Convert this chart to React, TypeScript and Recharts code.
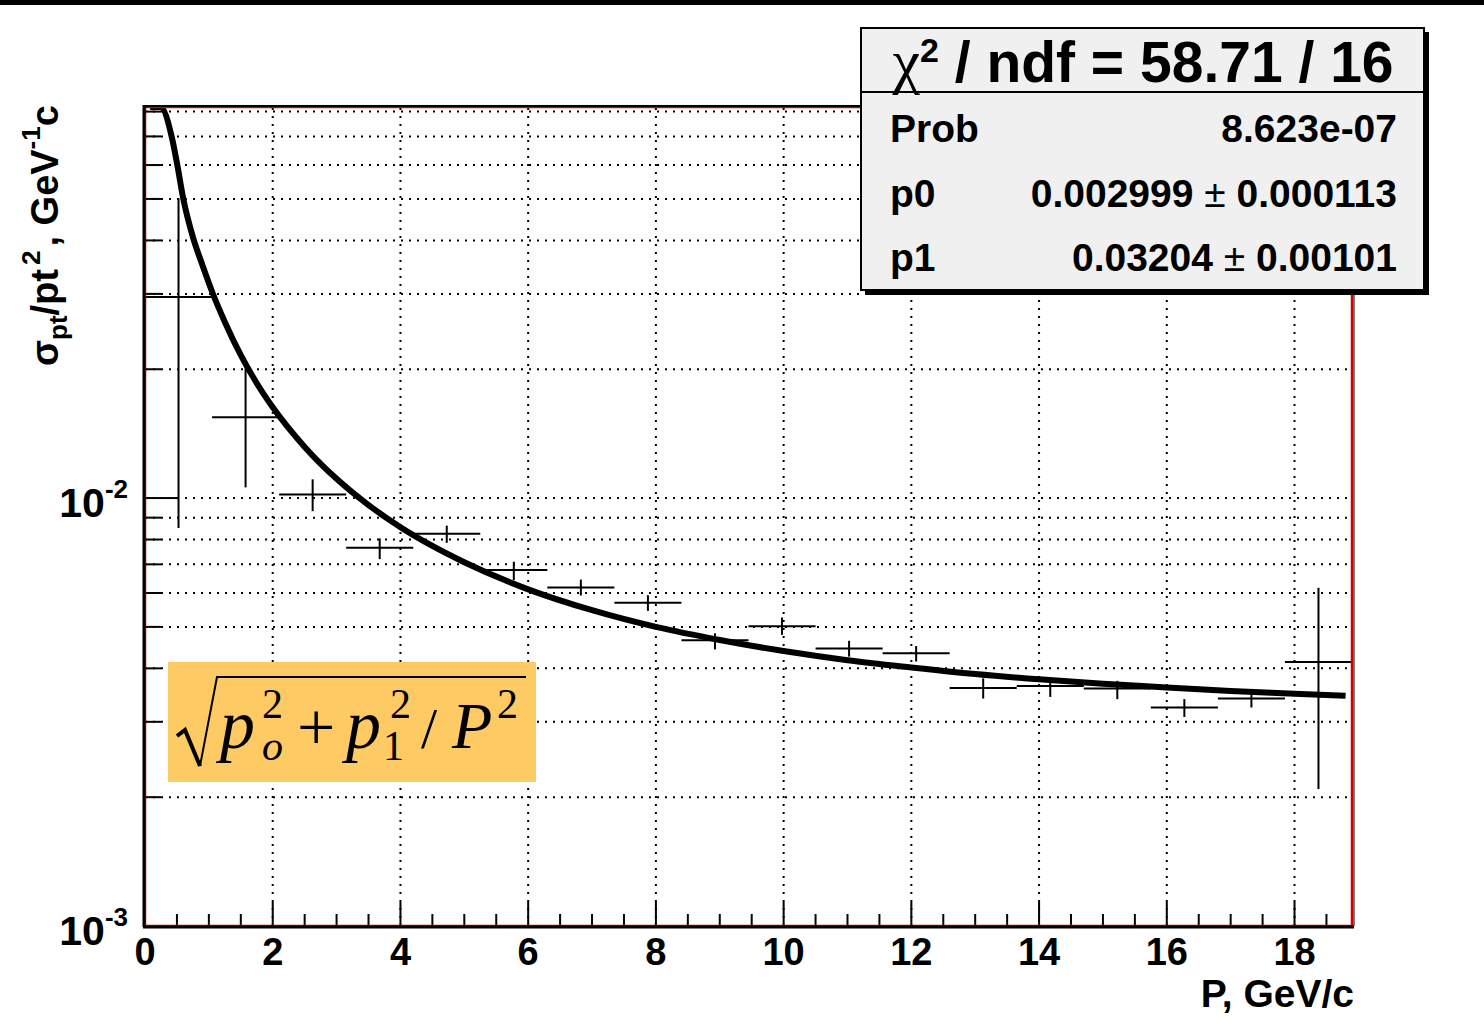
import React from 'react';
import {
  ComposedChart,
  XAxis,
  YAxis,
  Line,
  Scatter,
  ErrorBar,
  ReferenceLine,
} from 'recharts';

// momentum bins (GeV/c): centres and half width
const binCenters = [
  0.525, 1.575, 2.625, 3.675, 4.725, 5.775, 6.825, 7.875, 8.925, 9.975, 11.025,
  12.075, 13.125, 14.175, 15.225, 16.275, 17.325, 18.375,
];
const binHalfWidth = 0.525;

// sigma_pt / pt^2 per bin, with error bar ends
const sigmaValues = [
  0.0295, 0.01544, 0.0102, 0.00765, 0.00825, 0.00679, 0.00618, 0.00569, 0.00465,
  0.00502, 0.00445, 0.00434, 0.0036, 0.00364, 0.00359, 0.00324, 0.0034, 0.00414,
];
const sigmaUpper = [
  0.0502, 0.0201, 0.01106, 0.00805, 0.00862, 0.0071, 0.00645, 0.00593, 0.00483,
  0.00526, 0.00464, 0.00451, 0.00379, 0.00381, 0.00374, 0.00339, 0.00353, 0.00617,
];
const sigmaLower = [
  0.00851, 0.01059, 0.00932, 0.0072, 0.00786, 0.00643, 0.00592, 0.00545, 0.00443,
  0.00479, 0.00426, 0.00415, 0.0034, 0.00343, 0.00339, 0.00308, 0.00324, 0.00209,
];

// fit curve as drawn
const fitP = [
  0.08, 0.24, 0.42, 0.5, 0.6, 0.75, 0.9, 1.06, 1.25, 1.5, 1.75, 2, 2.5, 3, 3.5, 4,
  4.5, 5, 6, 7, 8, 9, 10, 11, 12, 13, 14, 15, 16, 17, 18, 18.8,
];
const fitValues = [
  0.082, 0.082, 0.0697, 0.0607, 0.05, 0.0407, 0.035, 0.0301, 0.0258, 0.02157,
  0.01855, 0.0163, 0.01317, 0.01109, 0.00963, 0.00855, 0.00773, 0.00708, 0.00612,
  0.00547, 0.005, 0.00466, 0.00439, 0.00418, 0.00402, 0.00388, 0.00377, 0.00368,
  0.00361, 0.00354, 0.00349, 0.00345,
];

const xTicks = [
  0, 0.5, 1, 1.5, 2, 2.5, 3, 3.5, 4, 4.5, 5, 5.5, 6, 6.5, 7, 7.5, 8, 8.5, 9, 9.5,
  10, 10.5, 11, 11.5, 12, 12.5, 13, 13.5, 14, 14.5, 15, 15.5, 16, 16.5, 17, 17.5,
  18, 18.5,
];
const xGrid = [2, 4, 6, 8, 10, 12, 14, 16, 18];
const yTicks = [
  0.001, 0.002, 0.003, 0.004, 0.005, 0.006, 0.007, 0.008, 0.009, 0.01, 0.02, 0.03,
  0.04, 0.05, 0.06, 0.07, 0.08,
];

const statsRows = [
  { name: 'Prob', value: '8.623e-07', err: '' },
  { name: 'p0', value: '0.002999', err: '0.000113' },
  { name: 'p1', value: '0.03204', err: '0.00101' },
];

const points = binCenters.map((p, i) => ({
  p,
  v: sigmaValues[i],
  ex: binHalfWidth,
  ey: [sigmaValues[i] - sigmaLower[i], sigmaUpper[i] - sigmaValues[i]],
}));
const fitData = fitP.map((p, i) => ({ p, v: fitValues[i] }));

const SANS = "'Liberation Sans', Arial, Helvetica, sans-serif";
const SERIF = "'Liberation Serif', 'Times New Roman', serif";
const PLOT = { left: 145, top: 107, right: 1352, bottom: 926 };

const XTick = (props: any) => {
  const { x, y, payload } = props;
  const v = payload.value;
  const major = Math.abs(v / 2 - Math.round(v / 2)) < 1e-6;
  return (
    <g>
      <line x1={x} y1={y} x2={x} y2={y - (major ? 24 : 12)} stroke="#000" strokeWidth={2} />
      {major && (
        <text x={x} y={y + 39} textAnchor="middle" fontFamily={SANS} fontWeight="bold" fontSize={38} fill="#000">
          {v}
        </text>
      )}
    </g>
  );
};

const YTick = (props: any) => {
  const { x, y, payload } = props;
  const lg = Math.log10(payload.value);
  const major = Math.abs(lg - Math.round(lg)) < 1e-6;
  return (
    <g>
      <line x1={x} y1={y} x2={x + (major ? 32 : 16)} y2={y} stroke="#000" strokeWidth={2} />
      {major && (
        <text x={x - 17} y={y + 19} textAnchor="end" fontFamily={SANS} fontWeight="bold" fontSize={41} fill="#000">
          <tspan>10</tspan>
          <tspan fontSize={26} dy={-19}>{Math.round(lg)}</tspan>
        </text>
      )}
    </g>
  );
};

const dotted = { stroke: '#000', strokeWidth: 2, strokeDasharray: '2 6' };

export default function App() {
  return (
    <div style={{ position: 'absolute', left: 0, top: 0, width: 1484, height: 1024, background: '#fff' }}>
      <ComposedChart width={1484} height={1024} margin={{ top: 107, right: 132, bottom: 0, left: 0 }}>
        <XAxis
          type="number"
          dataKey="p"
          domain={[0, 18.9]}
          ticks={xTicks}
          interval={0}
          height={98}
          tickSize={0}
          tickMargin={0}
          axisLine={false}
          tickLine={false}
          tick={XTick}
          allowDataOverflow
        />
        <YAxis
          type="number"
          dataKey="v"
          scale="log"
          domain={[0.001, 0.082]}
          ticks={yTicks}
          interval={0}
          width={145}
          tickSize={0}
          tickMargin={0}
          axisLine={false}
          tickLine={false}
          tick={YTick}
          allowDataOverflow
        />
        {xGrid.map((g) => (
          <ReferenceLine key={'gx' + g} x={g} {...dotted} />
        ))}
        {yTicks.slice(1).map((g) => (
          <ReferenceLine key={'gy' + g} y={g} {...dotted} />
        ))}
        <Scatter data={points} isAnimationActive={false} shape={() => <g />}>
          <ErrorBar dataKey="ex" direction="x" width={0} stroke="#000" strokeWidth={2} isAnimationActive={false} />
          <ErrorBar dataKey="ey" direction="y" width={0} stroke="#000" strokeWidth={2} isAnimationActive={false} />
        </Scatter>
        <Line
          data={fitData}
          dataKey="v"
          type="monotone"
          stroke="#000"
          strokeWidth={6}
          dot={false}
          activeDot={false}
          isAnimationActive={false}
        />
      </ComposedChart>

      <svg
        width={1484}
        height={1024}
        style={{ position: 'absolute', left: 0, top: 0, pointerEvents: 'none' }}
        fontFamily={SANS}
      >
        <rect x={0} y={0} width={1484} height={5} fill="#000" />

        {/* frame */}
        <rect
          x={PLOT.left}
          y={PLOT.top}
          width={PLOT.right - PLOT.left}
          height={PLOT.bottom - PLOT.top}
          fill="none"
          stroke="#d40000"
          strokeWidth={2.5}
        />
        <line x1={PLOT.left} y1={PLOT.top - 1} x2={PLOT.right} y2={PLOT.top - 1} stroke="#000" strokeWidth={2} />
        <line x1={PLOT.right + 2} y1={PLOT.top} x2={PLOT.right + 2} y2={PLOT.bottom} stroke="#000" strokeWidth={1} />
        <line x1={PLOT.left - 1} y1={PLOT.top - 2} x2={PLOT.left - 1} y2={PLOT.bottom + 1} stroke="#000" strokeWidth={3} />
        <line x1={PLOT.left - 2} y1={PLOT.bottom + 1} x2={PLOT.right + 2} y2={PLOT.bottom + 1} stroke="#000" strokeWidth={3} />

        {/* axis titles */}
        <text transform="translate(58,366) rotate(-90)" fontSize={38} fontWeight="bold" fill="#000">
          <tspan>σ</tspan>
          <tspan fontSize={26} dy={9}>pt</tspan>
          <tspan dy={-9}>/pt</tspan>
          <tspan fontSize={26} dy={-18} dx={4}>2</tspan>
          <tspan dy={18} dx={4}>, GeV</tspan>
          <tspan fontSize={26} dy={-18}>-1</tspan>
          <tspan dy={18}>c</tspan>
        </text>
        <text x={1354} y={1007} textAnchor="end" fontSize={39} fontWeight="bold" fill="#000">
          P, GeV/c
        </text>

        {/* fit statistics box */}
        <rect x={865} y={32} width={564} height={263} fill="#000" />
        <rect x={861} y={28} width={563} height={262} fill="#f0f0f0" stroke="#000" strokeWidth={2} />
        <line x1={861} y1={92} x2={1424} y2={92} stroke="#000" strokeWidth={2} />
        <text x={1143} y={82} textAnchor="middle" fontSize={57} fontWeight="bold" fill="#000">
          <tspan fontFamily={SERIF} fontWeight="normal" fontSize={62}>χ</tspan>
          <tspan fontSize={34} dy={-20}>2</tspan>
          <tspan dy={20}>{' / ndf = 58.71 / 16'}</tspan>
        </text>
        {statsRows.map((r, i) => (
          <g key={r.name}>
            <text x={890} y={142 + i * 64.5} fontSize={39} fontWeight="bold" fill="#000">
              {r.name}
            </text>
            <text x={1397} y={142 + i * 64.5} textAnchor="end" fontSize={39} fontWeight="bold" fill="#000">
              <tspan>{r.value}</tspan>
              {r.err && <tspan fontWeight="normal">{' ± '}</tspan>}
              {r.err && <tspan>{r.err}</tspan>}
            </text>
          </g>
        ))}

        {/* formula */}
        <rect x={168} y={662} width={368} height={120} fill="#fdca63" />
        <path d="M177,736 L185,730 L200,766" fill="none" stroke="#000" strokeWidth={4} />
        <path d="M200,766 L217,677 L526,677" fill="none" stroke="#000" strokeWidth={2} />
        <g fontFamily={SERIF} fill="#000">
          <text x={220} y={748} fontSize={70} fontStyle="italic">p</text>
          <text x={262} y={718} fontSize={42}>2</text>
          <text x={262} y={760} fontSize={42} fontStyle="italic">o</text>
          <text x={297} y={750} fontSize={68}>+</text>
          <text x={346} y={748} fontSize={70} fontStyle="italic">p</text>
          <text x={390} y={718} fontSize={42}>2</text>
          <text x={383} y={760} fontSize={42}>1</text>
          <text x={421} y={748} fontSize={58}>/</text>
          <text x={452} y={748} fontSize={66} fontStyle="italic">P</text>
          <text x={497} y={718} fontSize={42}>2</text>
        </g>
      </svg>
    </div>
  );
}
